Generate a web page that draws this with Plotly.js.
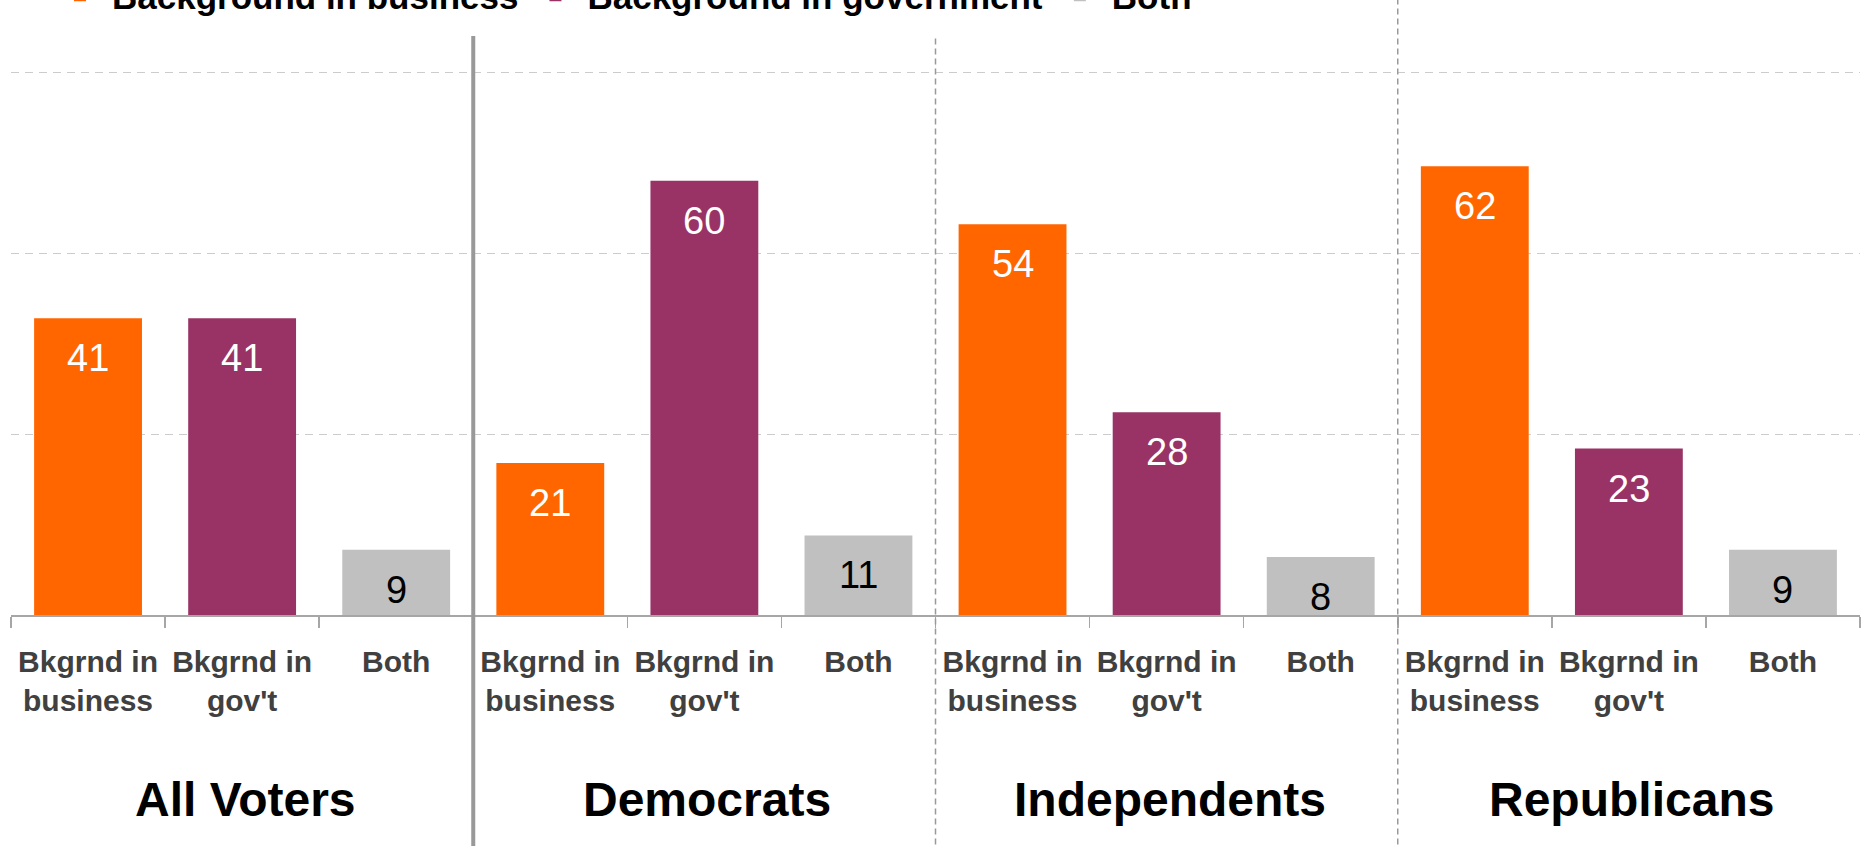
<!DOCTYPE html>
<html>
<head>
<meta charset="utf-8">
<script src="https://cdn.plot.ly/plotly-3.0.1.min.js"></script>
<style>html,body{margin:0;padding:0;background:#fff;}#chart{width:1864px;height:846px;}</style>
</head>
<body>
<div id="chart"></div>
<script>
const groups = ["All Voters", "Democrats", "Independents", "Republicans"];
const categories = ["Bkgrnd in<br>business", "Bkgrnd in<br>gov't", "Both"];
const seriesNames = ["Background in business", "Background in government", "Both"];
const business = [41, 21, 54, 62];
const government = [41, 60, 28, 23];
const both = [9, 11, 8, 9];

const series = [business, government, both];
const colors = ["#FF6600", "#993366", "#C0C0C0"];
const labelColors = ["#FFFFFF", "#FFFFFF", "#000000"];
const FONT = "Liberation Sans, Arial, sans-serif";

const traces = series.map((vals, k) => ({
  type: "bar",
  name: seriesNames[k],
  x: groups.map((g, i) => i * categories.length + k),
  y: vals,
  width: 0.7,
  marker: {color: colors[k]},
  hoverinfo: "skip"
}));

const tickvals = [];
const ticktext = [];
groups.forEach((g, i) => categories.forEach((c, k) => {
  tickvals.push(i * categories.length + k);
  ticktext.push(c);
}));

const annotations = [];
series.forEach((vals, k) => vals.forEach((v, i) => {
  annotations.push({
    x: i * categories.length + k, y: v, xref: "x", yref: "y",
    text: String(v), showarrow: false, yanchor: "top", yshift: -17,
    font: {family: FONT, size: 38, color: labelColors[k]}
  });
}));
groups.forEach((g, i) => {
  annotations.push({
    x: i * categories.length + 1, y: -0.318, xref: "x", yref: "paper",
    text: g, showarrow: false, yanchor: "middle", xshift: 3,
    font: {family: FONT, size: 48, color: "#000000", weight: "bold"}
  });
});

const sepStyles = [
  {x: 2.5, dash: "solid", width: 4, top: 1.0},
  {x: 5.5, dash: "6px,4px", width: 1.5, top: 1.0},
  {x: 8.5, dash: "6px,4px", width: 1.5, top: 1.08}
];
const shapes = sepStyles.map(s => ({
  type: "line", xref: "x", yref: "paper", x0: s.x, x1: s.x, y0: -0.5, y1: s.top,
  line: {color: "#999999", width: s.width, dash: s.dash}, layer: "above"
}));

const layout = {
  width: 1864, height: 846,
  margin: {l: 11, r: 4, t: 36, b: 231, autoexpand: false},
  paper_bgcolor: "#ffffff", plot_bgcolor: "#ffffff",
  barmode: "overlay",
  showlegend: true,
  legend: {
    orientation: "h", x: 0.020, xanchor: "left", y: 1.019, yanchor: "bottom",
    itemwidth: 54, valign: "top",
    font: {family: FONT, size: 35, color: "#000000", weight: "bold"},
    bgcolor: "rgba(0,0,0,0)"
  },
  xaxis: {
    range: [-0.5, 11.5], tickmode: "array", tickvals: tickvals, ticktext: ticktext,
    ticks: "", showgrid: false, zeroline: false,
    showline: true, linecolor: "#A6A6A6", linewidth: 2,
    tickfont: {family: FONT, size: 30, color: "#404040", weight: "bold"},
    ticklabelstandoff: 19,
    minor: {ticks: "outside", tick0: -0.5, dtick: 1, ticklen: 11, tickwidth: 1.5, tickcolor: "#A6A6A6", showgrid: false}
  },
  yaxis: {
    range: [0, 80], dtick: 25, tick0: 0, showticklabels: false, ticks: "",
    showgrid: true, gridcolor: "#CCCCCC", gridwidth: 1, griddash: "8px,6px",
    zeroline: false, showline: false
  },
  annotations: annotations,
  shapes: shapes
};

Plotly.newPlot("chart", traces, layout, {displayModeBar: false, staticPlot: true});
</script>
</body>
</html>
